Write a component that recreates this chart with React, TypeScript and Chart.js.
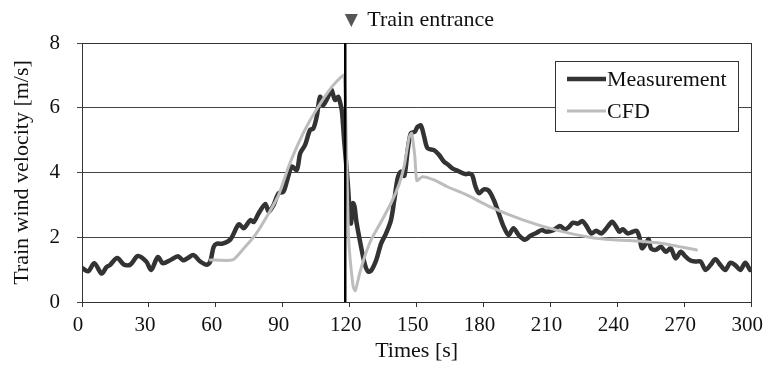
import React, { useEffect, useRef } from "react";
import { Chart, registerables } from "chart.js";

Chart.register(...registerables);

// ---------- data ----------
const measTime = [
  0, 2.8, 5.5, 8.8, 11, 12.5, 15.8, 18.7, 21.6, 25, 28.8, 31, 34, 36.2, 39.5, 43, 45.3, 47.3, 50, 53, 56, 57.5,
  59, 60.5, 63, 66.6, 70.3, 72.5, 75.5, 77, 79.2, 82.2, 83.7, 85.9, 88.1, 90.3, 91.8, 94, 96.3, 97.8, 100,
  102.2, 103.7, 105.2, 106.7, 108.1, 111.1, 111.9, 113.4, 114.8, 115.6, 116.5, 117.5, 119, 120.5, 121.5,
  122.2, 123, 124.5, 126.7, 128.2, 129.6, 131.9, 134.1, 136.3, 138.5, 140, 141.5, 143, 144.5, 146, 147.4,
  149.2, 150.4, 151.9, 153.4, 154.9, 157.8, 160.1, 162.3, 164, 166, 168.2, 171.9, 173.4, 174.9, 176.4,
  177.9, 180.1, 182.3, 184.6, 186.8, 189, 191.2, 193.4, 195.7, 198.6, 200.9, 203.8, 206.1, 208.3, 211.3,
  214.2, 216.4, 218, 220.1, 222.3, 224.3, 226.1, 228.3, 230.5, 232.8, 235.7, 237.6, 239.4, 240.9, 242.4,
  244.6, 246.9, 248.6, 249.8, 251, 252.8, 254, 255, 257.2, 259.5, 261.7, 263.9, 266.1, 268.4, 270.6,
  272.8, 275, 277.3, 279.5, 281.7, 283.9, 286.2, 288.4, 290.6, 292.8, 295.1, 297.3, 299.5, 300,
];
const measValue = [
  1.05, 0.95, 1.2, 0.88, 1.08, 1.14, 1.36, 1.16, 1.15, 1.42, 1.25, 0.99, 1.39, 1.2, 1.29, 1.41, 1.29, 1.35,
  1.45, 1.25, 1.15, 1.25, 1.7, 1.8, 1.8, 1.94, 2.4, 2.28, 2.53, 2.47, 2.74, 3.03, 2.79, 3.0, 3.36, 3.41,
  3.72, 4.18, 4.08, 4.59, 4.85, 5.31, 5.36, 5.72, 6.34, 6.08, 6.45, 6.55, 6.24, 6.34, 6.19, 5.9, 5.0, 3.8,
  2.43, 3.05, 2.94, 2.48, 1.92, 1.19, 0.94, 0.97, 1.3, 1.81, 2.12, 2.53, 3.15, 3.82, 4.03, 3.9, 4.69,
  5.21, 5.26, 5.41, 5.45, 5.1, 4.75, 4.69, 4.54, 4.33, 4.25, 4.13, 4.06, 3.95, 3.97, 3.92, 3.56, 3.36,
  3.48, 3.44, 3.15, 2.74, 2.33, 2.07, 2.28, 2.07, 1.92, 2.04, 2.14, 2.22, 2.17, 2.22, 2.35, 2.25, 2.3,
  2.45, 2.42, 2.5, 2.35, 2.12, 2.2, 2.12, 2.33, 2.48, 2.33, 2.17, 2.25, 2.12, 2.17, 2.2, 2.02, 1.66,
  1.81, 1.94, 1.66, 1.61, 1.71, 1.55, 1.66, 1.35, 1.55, 1.4, 1.28, 1.25, 1.25, 0.99, 1.14, 1.32, 1.14,
  0.99, 1.21, 1.14, 0.99, 1.21, 0.99, 1.0,
];
const cfdTime = [
  57, 67.5, 71.8, 77.7, 83.7, 88.1, 92.6, 97, 101.5, 105.9, 110.4, 114.1, 117.5, 119.5, 121.5, 122.5,
  124.5, 126.7, 129.6, 134.1, 138.5, 142.3, 144.5, 146.7, 147.8, 149.2, 150.1, 152.6, 157.8, 163.8,
  172.7, 183, 197.9, 212.7, 227.5, 238, 245.4, 260.2, 276,
];
const cfdValue = [
  1.3, 1.3, 1.6, 2.07, 2.74, 3.3, 4.18, 4.9, 5.52, 6.03, 6.5, 6.81, 7.0, 2.0, 0.5, 0.35, 0.89, 1.4, 1.92,
  2.48, 3.05, 3.67, 4.23, 5.1, 5.21, 4.49, 3.75, 3.87, 3.77, 3.56, 3.3, 2.94, 2.53, 2.22, 2.0, 1.92,
  1.9, 1.81, 1.6,
];
const entranceTime = 118;
const yRange = [0, 8];
const xRange = [0, 300];
const xStep = 30;
const yStep = 2;
const seriesNames = ["Measurement", "CFD"];
const markerLabel = "Train entrance";
const xTitle = "Times [s]";
const yTitle = "Train wind velocity [m/s]";

const FONT = "'Liberation Serif', 'Times New Roman', serif";
const MEAS_COLOR = "#333333";
const CFD_COLOR = "#bdbdbd";

const framePlugin = {
  id: "frame",
  beforeDatasetsDraw(chart: any) {
    const { ctx, chartArea: a } = chart;
    ctx.save();
    ctx.strokeStyle = "#333";
    ctx.lineWidth = 1;
    ctx.strokeRect(Math.round(a.left) + 0.5, Math.round(a.top) + 0.5, Math.round(a.right - a.left), Math.round(a.bottom - a.top));
    ctx.restore();
  },
};

const markerPlugin = {
  id: "marker",
  afterDraw(chart: any) {
    const { ctx } = chart;
    const x = chart.scales.x.getPixelForValue(entranceTime);
    ctx.save();
    ctx.fillStyle = "#555";
    ctx.font = `17px 'DejaVu Sans', sans-serif`;
    ctx.textAlign = "center";
    ctx.textBaseline = "alphabetic";
    ctx.fillText("▼", x + 6, 25);
    ctx.fillStyle = "#111";
    ctx.font = `22px ${FONT}`;
    ctx.textAlign = "left";
    ctx.fillText(markerLabel, x + 22, 26);
    ctx.restore();
  },
};

const legendPlugin = {
  id: "boxLegend",
  afterDraw(chart: any) {
    const { ctx } = chart;
    const left = 555, top = 61, w = 183, h = 70;
    ctx.save();
    ctx.fillStyle = "#fff";
    ctx.fillRect(left, top, w, h);
    ctx.strokeStyle = "#333";
    ctx.lineWidth = 1;
    ctx.strokeRect(left + 0.5, top + 0.5, w, h);
    const rows = [
      { name: seriesNames[0], color: MEAS_COLOR, width: 4.5, y: 79 },
      { name: seriesNames[1], color: CFD_COLOR, width: 3, y: 111 },
    ];
    ctx.font = `22px ${FONT}`;
    ctx.textBaseline = "middle";
    ctx.textAlign = "left";
    for (const r of rows) {
      ctx.strokeStyle = r.color;
      ctx.lineWidth = r.width;
      ctx.beginPath();
      ctx.moveTo(567, r.y);
      ctx.lineTo(606, r.y);
      ctx.stroke();
      ctx.fillStyle = "#111";
      ctx.fillText(r.name, 607, r.y + 1);
    }
    ctx.restore();
  },
};

export default function App() {
  const ref = useRef<HTMLCanvasElement | null>(null);
  useEffect(() => {
    if (!ref.current) return;
    const meas = measTime.map((t, i) => ({ x: t, y: measValue[i] }));
    const cfd = cfdTime.map((t, i) => ({ x: t, y: cfdValue[i] }));
    const chart = new Chart(ref.current, {
      type: "line",
      data: {
        datasets: [
          {
            label: seriesNames[0],
            data: meas,
            borderColor: MEAS_COLOR,
            borderWidth: 4.5,
            pointRadius: 0,
            tension: 0.3,
            order: 2,
          },
          {
            label: seriesNames[1],
            data: cfd,
            borderColor: CFD_COLOR,
            borderWidth: 3,
            pointRadius: 0,
            tension: 0.2,
            order: 1,
          },
          {
            label: markerLabel,
            data: [
              { x: entranceTime, y: yRange[0] },
              { x: entranceTime, y: yRange[1] },
            ],
            borderColor: "#000",
            borderWidth: 2.5,
            pointRadius: 0,
            order: 0,
          },
        ],
      },
      options: {
        animation: false,
        responsive: false,
        layout: { padding: { top: 43, right: 17, bottom: 0, left: 0 } },
        plugins: { legend: { display: false }, tooltip: { enabled: false }, title: { display: false } },
        scales: {
          x: {
            type: "linear",
            min: xRange[0],
            max: xRange[1],
            afterFit: (s: any) => {
              s.height = 68;
            },
            ticks: { stepSize: xStep, color: "#111", font: { family: FONT, size: 21 }, padding: 6, labelOffset: -4, maxRotation: 0 },
            grid: { drawOnChartArea: false, drawTicks: true, tickLength: 5, color: "#333" },
            border: { display: true, color: "#333" },
            title: { display: true, text: xTitle, color: "#111", font: { family: FONT, size: 22 }, padding: { top: 0, bottom: 6 } },
          },
          y: {
            min: yRange[0],
            max: yRange[1],
            afterFit: (s: any) => {
              s.width = 82;
            },
            ticks: { stepSize: yStep, color: "#111", font: { family: FONT, size: 21 }, padding: 17 },
            grid: { color: "#444", lineWidth: 1, tickLength: 5, drawTicks: true },
            border: { display: true, color: "#333" },
            title: { display: true, text: yTitle, color: "#111", font: { family: FONT, size: 22 }, padding: { top: 9, bottom: 0 } },
          },
        },
      },
      plugins: [framePlugin, markerPlugin, legendPlugin],
    });
    return () => chart.destroy();
  }, []);
  return (
    <div style={{ position: "fixed", left: 0, top: 0, width: 773, height: 370, background: "#fff" }}>
      <canvas ref={ref} width={773} height={370} style={{ display: "block" }} />
    </div>
  );
}
